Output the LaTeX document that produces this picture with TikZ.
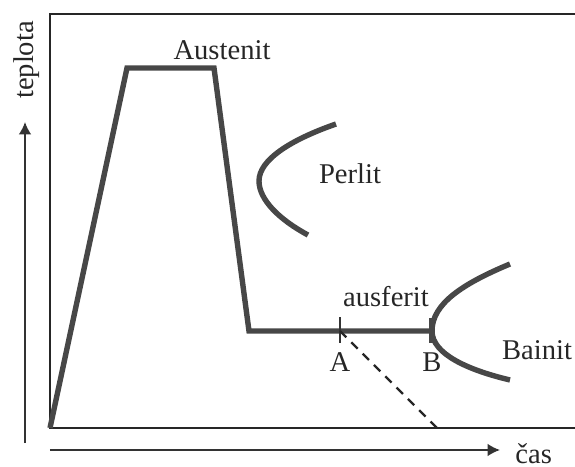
\documentclass[tikz,border=0pt]{standalone}
\usepackage{fontspec}
\setmainfont{Liberation Serif}
\usetikzlibrary{arrows.meta}

\begin{document}
\begin{tikzpicture}[x=0.5pt,y=-0.5pt,
  frame/.style={draw=black!85, line width=0.9pt},
  curve/.style={draw=black!72, line width=2.7pt},
  axis/.style={-{Latex[length=6.2pt,width=6.3pt]}, draw=black!80, line width=0.8pt},
  label/.style={font=\fontsize{14.3}{16}\selectfont, text=black!85, inner sep=0pt}
]
\useasboundingbox (0,0) rectangle (575,467);
% frame of the graph
\coordinate (tr) at (575,14);
\coordinate (tl) at (50,14);
\coordinate (bl) at (50,428);
\coordinate (br) at (575,428);
\draw[frame] (tr) -- (tl) -- (bl) -- (br);
% heat treatment curve
\coordinate (heat) at (127,68);
\coordinate (hold) at (214,68);
\coordinate (quench) at (249,331);
\coordinate (A) at (340,331);
\coordinate (B) at (432,331);
\draw[curve] (bl) -- (heat) -- (hold) -- (quench) -- (B);
\draw[draw=black!80, line width=1.1pt] (340,317) -- (340,343);
\draw[curve] (432,318) -- (432,343);
\coordinate (cool) at (437,428);
\draw[black!85, line width=1.2pt, dash pattern=on 4.5pt off 3.5pt] (A) -- (cool);
% transformation curves
\draw[curve] (336,124) .. controls (290,140) and (259,160) .. (259,181)
  .. controls (259,200) and (280,220) .. (308,235);
\draw[curve] (510,264) .. controls (462,284) and (432,304) .. (432,331)
  .. controls (432,354) and (468,370) .. (510,380);
% axes
\coordinate (y0) at (25,443);
\coordinate (y1) at (25,122);
\coordinate (x0) at (50,450);
\coordinate (x1) at (500,450);
\draw[axis] (y0) -- (y1);
\draw[axis] (x0) -- (x1);
% labels
\node[label, rotate=90] (teplota) at (27,60) {teplota};
\node[label, anchor=west] (cas) at (515,454) {čas};
\node[label] (austenit) at (222,50) {Austenit};
\node[label] (perlit) at (350,174) {Perlit};
\node[label] (ausferit) at (386,297) {ausferit};
\node[label] (bainit) at (537,350) {Bainit};
\node[label] (labA) at (340,362) {A};
\node[label] (labB) at (432,362) {B};
\end{tikzpicture}
\end{document}
